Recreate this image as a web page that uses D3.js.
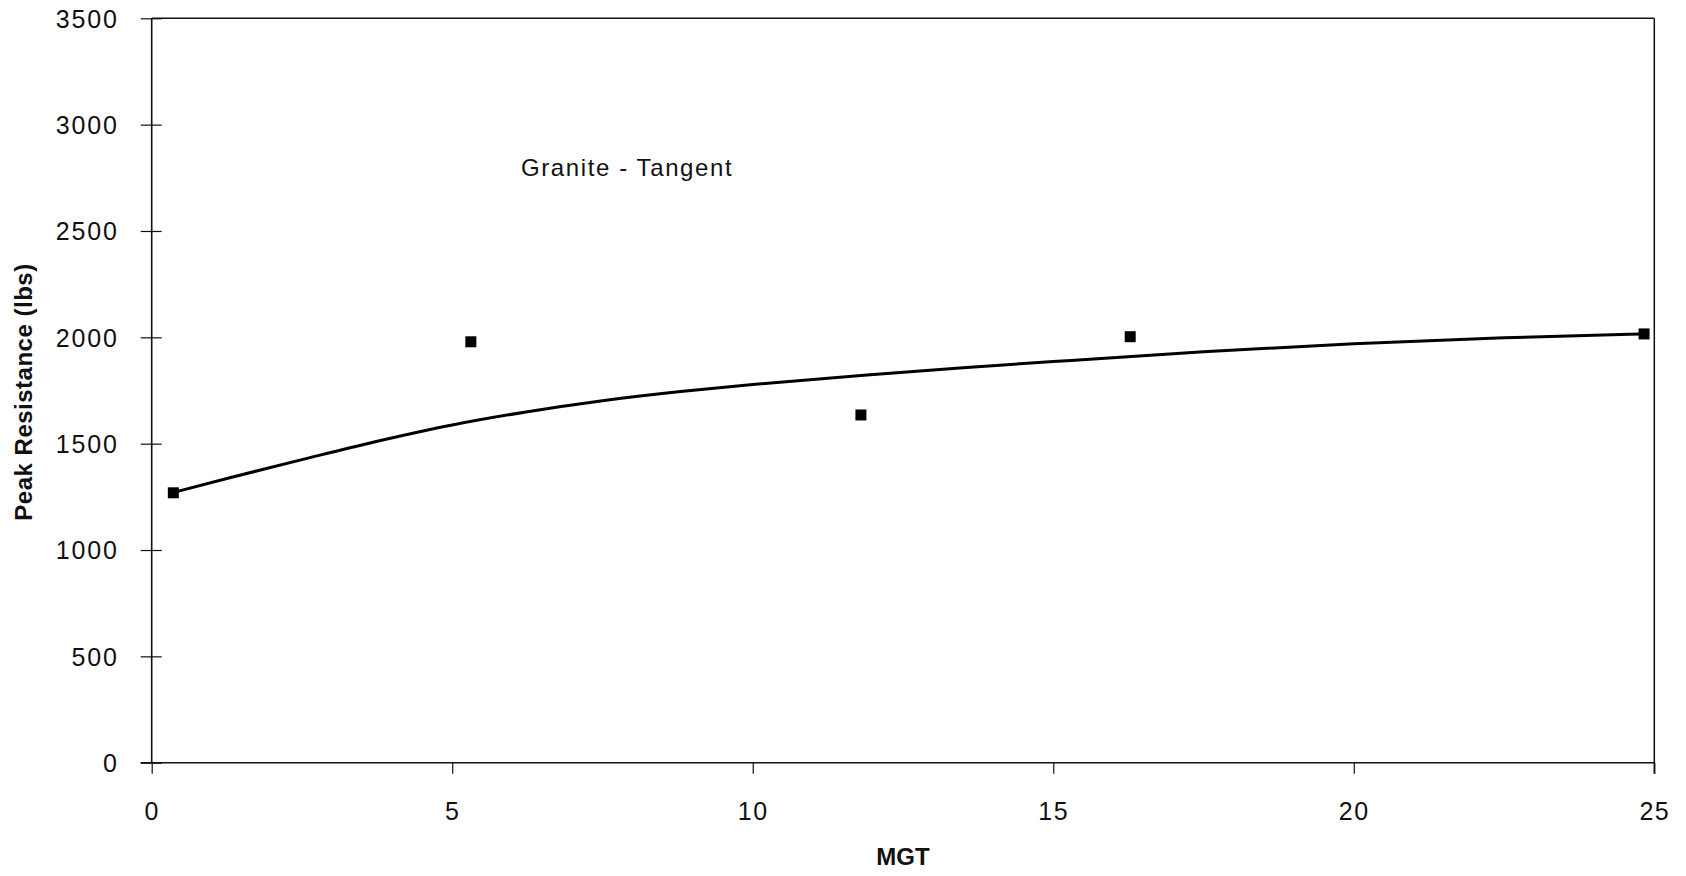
<!DOCTYPE html>
<html>
<head>
<meta charset="utf-8">
<script src="https://cdn.jsdelivr.net/npm/d3@7"></script>
<style>
  html, body { margin: 0; padding: 0; background: #fff; }
  svg { display: block; }
  text { font-family: "Liberation Sans", Arial, Helvetica, sans-serif; fill: #111; }
</style>
</head>
<body>
<svg id="chart" width="1686" height="876"></svg>
<script>
// Observed data points (MGT, Peak Resistance lbs)
const pointMGT = [0.36, 5.31, 11.80, 16.28, 24.83];
const pointResistance = [1269, 1979, 1635, 2003, 2016];

// Trend curve
const curveMGT = [0.35, 1.3, 2.5, 3.7, 5.0, 6.2, 7.5, 8.8, 10.0, 11.9, 13.5, 15.0, 17.5, 20.0, 22.5, 24.8];
const curveResistance = [1270, 1340, 1425, 1508, 1588, 1648, 1702, 1745, 1778, 1823, 1857, 1886, 1932, 1970, 1998, 2016];

// Tick labels
const xTicks = [0, 5, 10, 15, 20, 25];
const yTicks = [0, 500, 1000, 1500, 2000, 2500, 3000, 3500];

const chartTitle = "Granite - Tangent";
const xTitle = "MGT";
const yTitle = "Peak Resistance (lbs)";

(function () {
const svg = d3.select("#chart");
const pL = 151.7, pR = 1654.3, pT = 18.3, pB = 762.7;

const x = d3.scaleLinear().domain([0, 25]).range([pL, pR]);
const y = d3.scaleLinear().domain([0, 3500]).range([pB, pT]);

// Frame (top and right)
svg.append("line").attr("x1", pL).attr("x2", pR).attr("y1", pT).attr("y2", pT)
  .attr("stroke", "#111").attr("stroke-width", 1.5);
svg.append("line").attr("x1", pR).attr("x2", pR).attr("y1", pT).attr("y2", pB + 11)
  .attr("stroke", "#111").attr("stroke-width", 1.5);

// Y axis (ticks crossing)
const yAxis = d3.axisLeft(y).tickValues(yTicks).tickSize(0).tickPadding(0).tickFormat(d3.format("d"));
const gy = svg.append("g").attr("transform", `translate(${pL},0)`).call(yAxis);
gy.select(".domain").remove();
gy.selectAll(".tick text").remove();
gy.selectAll(".tick").append("line")
  .attr("x1", -11).attr("x2", 10).attr("stroke", "#111").attr("stroke-width", 1.2);
gy.selectAll(".tick").append("text")
  .attr("x", -33).attr("dy", "0.35em").attr("text-anchor", "end")
  .style("font-size", "25px").style("letter-spacing", "1.8px")
  .text(d => d);
svg.append("line").attr("x1", pL).attr("x2", pL).attr("y1", pT).attr("y2", pB)
  .attr("stroke", "#111").attr("stroke-width", 1.6);

// X axis (ticks outside)
const xAxis = d3.axisBottom(x).tickValues(xTicks).tickSize(0).tickFormat(d3.format("d"));
const gx = svg.append("g").attr("transform", `translate(0,${pB})`).call(xAxis);
gx.select(".domain").remove();
gx.selectAll(".tick text").remove();
gx.selectAll(".tick").append("line")
  .attr("y1", 0).attr("y2", 11).attr("stroke", "#111").attr("stroke-width", 1.2);
gx.selectAll(".tick").append("text")
  .attr("y", 49).attr("dy", "0.35em").attr("text-anchor", "middle")
  .style("font-size", "25px").style("letter-spacing", "1.5px")
  .text(d => d);
svg.append("line").attr("x1", pL - 11).attr("x2", pR).attr("y1", pB).attr("y2", pB)
  .attr("stroke", "#111").attr("stroke-width", 1.6);

// Trend curve
const curveData = curveMGT.map((m, i) => [m, curveResistance[i]]);
svg.append("path")
  .datum(curveData)
  .attr("fill", "none")
  .attr("stroke", "#000")
  .attr("stroke-width", 3)
  .attr("d", d3.line().x(d => x(d[0])).y(d => y(d[1])).curve(d3.curveMonotoneX));

// Square markers
const pts = pointMGT.map((m, i) => [m, pointResistance[i]]);
const sz = 11;
svg.append("g").selectAll("rect").data(pts).join("rect")
  .attr("x", d => x(d[0]) - sz / 2)
  .attr("y", d => y(d[1]) - sz / 2)
  .attr("width", sz).attr("height", sz)
  .attr("fill", "#000");

// In-plot title
svg.append("text")
  .attr("x", 521).attr("y", 176)
  .style("font-size", "24px").style("letter-spacing", "1.6px")
  .text(chartTitle);

// Axis titles
svg.append("text")
  .attr("x", 903).attr("y", 865)
  .attr("text-anchor", "middle")
  .style("font-size", "24px").style("font-weight", "bold")
  .text(xTitle);

svg.append("text")
  .attr("transform", "translate(32,392) rotate(-90)")
  .attr("text-anchor", "middle")
  .style("font-size", "24px").style("font-weight", "bold").style("letter-spacing", "0.5px")
  .text(yTitle);
})();
</script>
</body>
</html>
